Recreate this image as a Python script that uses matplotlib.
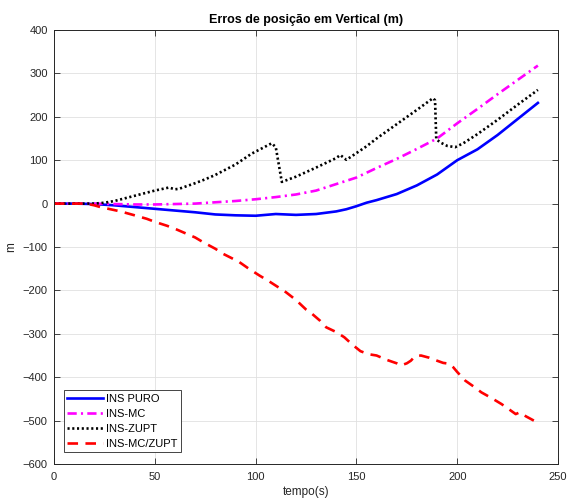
import matplotlib.pyplot as plt

plt.rcParams['font.family'] = ['Liberation Sans', 'DejaVu Sans']

# INS PURO
t_puro = [0, 10, 20, 30, 40, 50, 60, 70, 80, 90, 100, 110, 120, 130, 140, 145,
          150, 155, 160, 170, 180, 190, 200, 210, 220, 230, 240]
y_puro = [0, 0, -1, -4, -8, -12, -16, -20, -25, -27, -28, -24, -26, -24, -18, -13,
          -6, 2, 8, 22, 42, 67, 100, 125, 158, 195, 232]

# INS-MC
t_mc = [0, 10, 20, 30, 40, 50, 60, 70, 80, 90, 100, 110, 120, 130, 140, 150,
        160, 170, 180, 190, 200, 210, 220, 230, 240]
y_mc = [0, 0, 0, -1, -2, -2, -1, 0, 3, 6, 10, 15, 21, 30, 45, 60,
        82, 103, 126, 150, 185, 218, 252, 285, 318]

# INS-ZUPT
t_zupt = [0, 10, 20, 25, 30, 35, 40, 45, 50, 55, 57, 60, 62, 70, 75, 80, 90, 98,
          103, 108, 110, 113, 120, 130, 140, 142, 145, 147, 155, 160, 170, 180,
          188, 189, 189.6, 192, 195, 199, 203, 210, 220, 230, 240]
y_zupt = [0, 0, 0, 2, 6, 12, 18, 24, 30, 35, 37, 33, 34, 47, 56, 66, 90, 115,
          127, 139, 130, 50, 62, 83, 105, 112, 101, 107, 132, 150, 183, 216,
          243, 238, 148, 140, 133, 130, 139, 160, 193, 228, 262]

# INS-MC/ZUPT
t_mczupt = [0, 10, 16, 20, 23, 28, 33, 40, 46, 50, 56, 60, 64, 70, 74, 80, 84, 90,
            92, 96, 100, 102, 106, 110, 115, 120, 125, 128, 132, 135, 140, 144,
            148, 152, 156, 160, 165, 170, 172, 175, 177, 179, 182, 186, 190, 193,
            196, 198, 200, 204, 208, 212, 217, 222, 226, 229, 231, 234, 238]
y_mczupt = [0, 0, 0, -4, -8, -13, -18, -27, -35, -42, -51, -58, -66, -78, -89, -104,
            -116, -130, -135, -148, -160, -166, -177, -189, -204, -222, -244, -254,
            -270, -285, -296, -308, -325, -340, -347, -350, -360, -368, -373, -368,
            -362, -352, -350, -355, -362, -367, -369, -377, -388, -408, -421, -435,
            -448, -462, -475, -485, -481, -490, -500]

fig = plt.figure(figsize=(5.67, 5.0), dpi=100)
ax = fig.add_axes([0.0952, 0.072, 0.889, 0.868])

lw = 1.9
ax.plot(t_puro, y_puro, color='#0000ff', lw=lw, label='INS PURO')
ax.plot(t_mc, y_mc, color='#ff00ff', lw=lw, dashes=(3.5, 1.6, 0.8, 1.6), label='INS-MC')
ax.plot(t_zupt, y_zupt, color='black', lw=lw, dashes=(0.8, 1.0), label='INS-ZUPT')
ax.plot(t_mczupt, y_mczupt, color='#ff0000', lw=lw, dashes=(4, 2.8), label='INS-MC/ZUPT')

ax.set_xlim(0, 250)
ax.set_ylim(-600, 400)
ax.set_xticks(range(0, 251, 50))
ax.set_yticks(range(-600, 401, 100))
ax.grid(True, color='#e0e0e0', lw=0.6)
ax.set_axisbelow(True)
ax.tick_params(direction='in', top=True, right=True, length=4, width=0.6,
               labelsize=8, colors='#262626')
ax.tick_params(axis='x', pad=6)
ax.tick_params(axis='y', pad=4.5)
for s in ax.spines.values():
    s.set_color('#262626')
    s.set_linewidth(0.7)

ax.set_title('Erros de posição em Vertical (m)', fontsize=9, fontweight='bold', pad=5)
ax.set_xlabel('tempo(s)', fontsize=8.5, color='#262626', labelpad=3)
ax.set_ylabel('m', fontsize=8.5, color='#262626', labelpad=4)

leg = ax.legend(loc='lower left', bbox_to_anchor=(0.0198, 0.0276), borderaxespad=0,
                fontsize=8, fancybox=False, edgecolor='#262626', framealpha=1,
                handlelength=3.2, handletextpad=0.3, labelspacing=0.45, borderpad=0.3)
leg.get_frame().set_linewidth(0.6)

fig.savefig('out.png', dpi=100)
